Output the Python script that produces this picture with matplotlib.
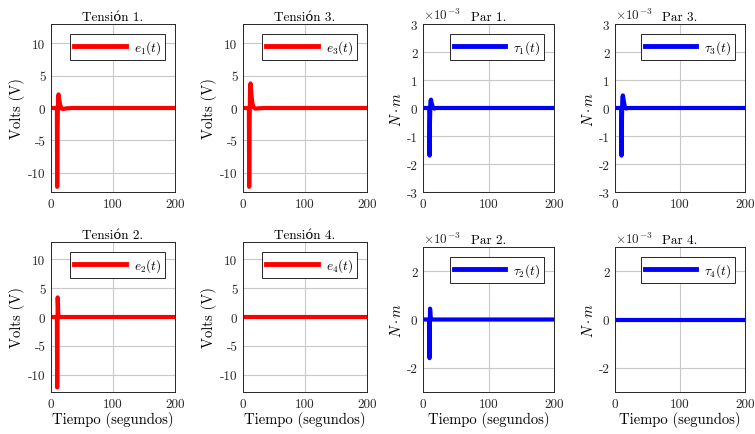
import matplotlib
matplotlib.use("Agg")
import matplotlib.pyplot as plt
import numpy as np
from matplotlib.ticker import FuncFormatter

plt.rcParams['font.family'] = ['cmr10', 'DejaVu Serif']
plt.rcParams['mathtext.fontset'] = 'cm'
plt.rcParams['axes.unicode_minus'] = False

# time samples (s)
t_e1 = [0, 9.5, 10, 10.6, 11.4, 12.2, 13.5, 15, 17, 20, 25, 35, 200]
e1 = [0, 0, -12.2, -3, 1.8, 2.1, 1.2, 0.4, -0.1, -0.15, -0.05, 0, 0]
t_e3 = [0, 9.5, 10, 10.6, 11.4, 12.2, 13.5, 15, 17, 20, 25, 35, 200]
e3 = [0, 0, -12.2, -3, 3.2, 3.8, 2.2, 0.8, 0.1, -0.1, -0.05, 0, 0]
t_e2 = [0, 9.5, 10, 10.4, 10.8, 11.3, 11.8, 12.4, 200]
e2 = [0, 0, -12.2, -4, 3.4, 2.0, 0.5, 0, 0]
t_e4 = [0, 200]
e4 = [0, 0]

t_tau1 = [0, 9.5, 10, 10.6, 11.4, 12.2, 13.5, 15, 17, 20, 200]
tau1 = [0, 0, -1.7e-3, -0.5e-3, 0.25e-3, 0.3e-3, 0.15e-3, 0.03e-3, -0.02e-3, 0, 0]
t_tau3 = [0, 9.5, 10, 10.6, 11.4, 12.2, 13.5, 15, 17, 20, 200]
tau3 = [0, 0, -1.7e-3, -0.5e-3, 0.4e-3, 0.45e-3, 0.25e-3, 0.06e-3, -0.02e-3, 0, 0]
t_tau2 = [0, 9.5, 10, 10.4, 10.8, 11.3, 11.8, 12.4, 200]
tau2 = [0, 0, -1.6e-3, -0.5e-3, 0.45e-3, 0.25e-3, 0.05e-3, 0, 0]
t_tau4 = [0, 200]
tau4 = [0, 0]

fig = plt.figure(figsize=(7.55, 4.35), dpi=100)
W, H = 755.0, 435.0

def mkax(x0, x1, ytop, ybot):
    return fig.add_axes([x0 / W, 1 - ybot / H, (x1 - x0) / W, (ybot - ytop) / H])

panels = [
    # x0, x1, ytop, ybot, t, y, label, title, color, kind, bottom row
    (51, 175, 25, 193, t_e1, e1, r'$e_1(t)$', 'Tensión 1.', 'red', 'e', False),
    (243, 367, 25, 193, t_e3, e3, r'$e_3(t)$', 'Tensión 3.', 'red', 'e', False),
    (423, 554, 25, 193, t_tau1, tau1, r'$\tau_1(t)$', 'Par 1.', 'blue', 'tt', False),
    (615, 745, 25, 193, t_tau3, tau3, r'$\tau_3(t)$', 'Par 3.', 'blue', 'tt', False),
    (51, 175, 243, 393, t_e2, e2, r'$e_2(t)$', 'Tensión 2.', 'red', 'e', True),
    (243, 367, 243, 393, t_e4, e4, r'$e_4(t)$', 'Tensión 4.', 'red', 'e', True),
    (423, 554, 248, 393, t_tau2, tau2, r'$\tau_2(t)$', 'Par 2.', 'blue', 'tb', True),
    (615, 745, 248, 393, t_tau4, tau4, r'$\tau_4(t)$', 'Par 4.', 'blue', 'tb', True),
]

for x0, x1, yt, yb, t, y, lab, title, col, kind, bottom in panels:
    ax = mkax(x0, x1, yt, yb)
    ax.plot(t, y, color=col, lw=3, label=lab)
    ax.set_xlim(0, 200)
    ax.set_xticks([0, 100, 200])
    ax.xaxis.set_major_formatter(FuncFormatter(lambda v, p: '%g' % v))
    if kind == 'e':
        ax.set_ylim(-13, 13)
        ax.set_yticks([-10, -5, 0, 5, 10])
        ax.yaxis.set_major_formatter(FuncFormatter(lambda v, p: '%g' % v))
        ax.set_ylabel('Volts (V)', fontsize=10.5, labelpad=2)
    else:
        ax.set_ylim(-3e-3, 3e-3)
        if kind == 'tt':
            ax.set_yticks(np.arange(-3, 4) * 1e-3)
        else:
            ax.set_yticks([-2e-3, 0, 2e-3])
        ax.yaxis.set_major_formatter(FuncFormatter(lambda v, p: '%g' % round(v * 1e3, 6)))
        ax.text(0.0, 1.01, r'$\times10^{-3}$', transform=ax.transAxes,
                fontsize=9.5, ha='left', va='bottom', color='#262626')
        ax.set_ylabel(r'$N\cdot m$', fontsize=10.5, labelpad=2)
    ax.set_title(title, fontsize=9.5, pad=3)
    if bottom:
        ax.set_xlabel('Tiempo (segundos)', fontsize=10.5, labelpad=1)
    ax.grid(True, color='#c8c8c8', lw=0.8)
    ax.set_axisbelow(True)
    for s in ax.spines.values():
        s.set_color('#262626')
        s.set_linewidth(0.7)
    ax.tick_params(labelsize=9.5, direction='in', length=0, pad=4, colors='#262626')
    leg = ax.legend(loc='upper right', fancybox=False, fontsize=9.5, handlelength=3.9,
                    borderpad=0.3, handletextpad=0.6, borderaxespad=0.75, framealpha=1)
    leg.get_frame().set_edgecolor('#262626')
    leg.get_frame().set_linewidth(0.7)
    leg.get_lines()[0].set_linewidth(3.5)

fig.savefig('out.png', dpi=100)
